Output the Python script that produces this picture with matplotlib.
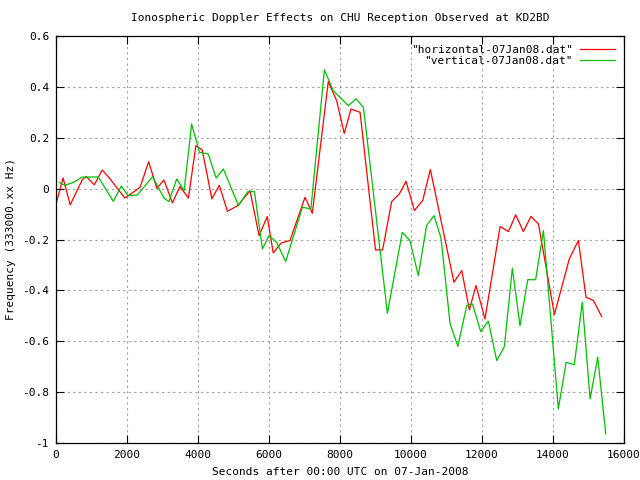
"""Ionospheric Doppler effects on CHU reception, gnuplot-style chart."""
import matplotlib
matplotlib.use("Agg")
import matplotlib.pyplot as plt

# horizontal antenna: seconds after 00:00 UTC, frequency offset (Hz)
h_t = [0, 200, 400, 740, 850, 1080, 1300, 1490, 1940, 2370, 2610, 2840,
       3040, 3280, 3490, 3730, 3940, 4120, 4390, 4600, 4830, 5120, 5465,
       5720, 5950, 6120, 6340, 6590, 7015, 7220, 7670, 7905, 8120, 8310,
       8565, 9000, 9200, 9455, 9670, 9860, 10095, 10330, 10545, 11210,
       11430, 11645, 11830, 12085, 12510, 12745, 12950, 13165, 13380,
       13590, 14040, 14460, 14715, 14930, 15140, 15370]
h_f = [-0.06, 0.042, -0.064, 0.035, 0.048, 0.015, 0.073, 0.044, -0.037,
       0.005, 0.106, 0.001, 0.034, -0.056, 0.008, -0.037, 0.169, 0.152,
       -0.04, 0.013, -0.089, -0.067, -0.008, -0.185, -0.11, -0.253, -0.214,
       -0.204, -0.034, -0.097, 0.421, 0.346, 0.217, 0.313, 0.3, -0.241,
       -0.241, -0.051, -0.021, 0.029, -0.086, -0.047, 0.075, -0.368,
       -0.322, -0.477, -0.381, -0.512, -0.149, -0.169, -0.103, -0.169,
       -0.109, -0.139, -0.495, -0.276, -0.204, -0.427, -0.44, -0.503]

# vertical antenna
v_t = [95, 250, 505, 730, 1190, 1615, 1840, 2030, 2290, 2720, 3040, 3180,
       3400, 3610, 3820, 4040, 4290, 4510, 4715, 5140, 5400, 5590, 5815,
       6000, 6215, 6470, 6940, 7180, 7560, 7810, 8235, 8450, 8660, 9335,
       9755, 9970, 10205, 10440, 10650, 10845, 11100, 11320, 11570, 11730,
       11965, 12180, 12415, 12630, 12855, 13070, 13290, 13510, 13730,
       14150, 14370, 14600, 14825, 15045, 15260, 15485]
v_f = [0.024, 0.013, 0.025, 0.045, 0.046, -0.05, 0.01, -0.028, -0.025,
       0.047, -0.037, -0.051, 0.038, -0.008, 0.254, 0.143, 0.136, 0.042,
       0.077, -0.067, -0.012, -0.012, -0.237, -0.185, -0.211, -0.287,
       -0.073, -0.08, 0.467, 0.385, 0.326, 0.353, 0.32, -0.49, -0.172,
       -0.204, -0.342, -0.145, -0.106, -0.194, -0.53, -0.62, -0.46, -0.453,
       -0.562, -0.521, -0.676, -0.621, -0.313, -0.539, -0.358, -0.358,
       -0.165, -0.866, -0.683, -0.692, -0.447, -0.827, -0.663, -0.964]

x_ticks = list(range(0, 16001, 2000))
y_ticks = [0.6, 0.4, 0.2, 0, -0.2, -0.4, -0.6, -0.8, -1]

plt.rcParams["font.family"] = "DejaVu Sans Mono"
plt.rcParams["font.size"] = 8

fig = plt.figure(figsize=(6.4, 4.8), dpi=100)
ax = fig.add_axes([56 / 640, 37 / 480, 568 / 640, 407 / 480])

ax.plot(h_t, h_f, color="#ff0000", lw=0.9, label='"horizontal-07Jan08.dat"')
ax.plot(v_t, v_f, color="#00c000", lw=0.9, label='"vertical-07Jan08.dat"')

ax.set_xlim(0, 16000)
ax.set_ylim(-1, 0.6)
ax.set_xticks(x_ticks)
ax.set_yticks(y_ticks)
ax.set_yticklabels(["0.6", "0.4", "0.2", "0", "-0.2", "-0.4", "-0.6", "-0.8", "-1"])
ax.tick_params(direction="in", length=6, width=0.8, top=True, right=True,
               labelsize=8, pad=5)
ax.grid(True, color="#a0a0a0", linestyle=(0, (2, 3)), linewidth=0.8)
for s in ax.spines.values():
    s.set_linewidth(0.9)

ax.set_xlabel("Seconds after 00:00 UTC on 07-Jan-2008", fontsize=8, labelpad=5)
ax.set_ylabel("Frequency (333000.xx Hz)", fontsize=8, labelpad=4)
ax.set_title("Ionospheric Doppler Effects on CHU Reception Observed at KD2BD",
             fontsize=8, pad=11)

leg = ax.legend(loc="upper right", frameon=False, markerfirst=False,
                handlelength=3.2, handletextpad=0.6, labelspacing=0.1,
                borderaxespad=0.4, fontsize=8)
for t in leg.get_texts():
    t.set_ha("right")
leg._legend_box.align = "right"

fig.savefig("out.png", dpi=100)
